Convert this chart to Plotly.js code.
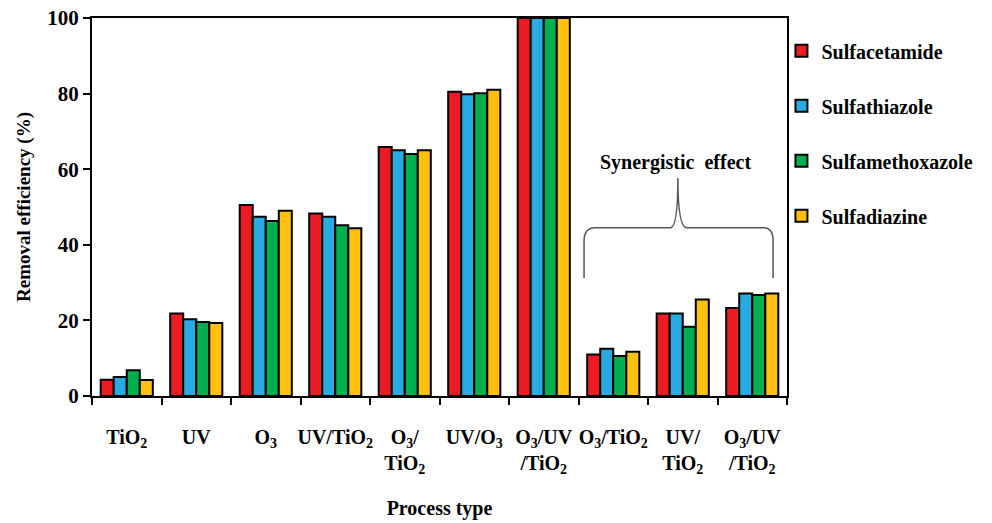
<!DOCTYPE html>
<html>
<head>
<meta charset="utf-8">
<script src="https://cdn.plot.ly/plotly-3.0.1.min.js"></script>
<style>html,body{margin:0;padding:0;background:#fff;}#chart{width:992px;height:523px;}</style>
</head>
<body>
<div id="chart"></div>
<script>
const categories = ['TiO2', 'UV', 'O3', 'UV/TiO2', 'O3/TiO2', 'UV/O3', 'O3/UV/TiO2', 'syn O3/TiO2', 'syn UV/TiO2', 'syn O3/UV/TiO2'];
const tickLabels = ['TiO<sub>2</sub>', 'UV', 'O<sub>3</sub>', 'UV/TiO<sub>2</sub>', 'O<sub>3</sub>/<br>TiO<sub>2</sub>', 'UV/O<sub>3</sub>', 'O<sub>3</sub>/UV<br>/TiO<sub>2</sub>', 'O<sub>3</sub>/TiO<sub>2</sub>', 'UV/<br>TiO<sub>2</sub>', 'O<sub>3</sub>/UV<br>/TiO<sub>2</sub>'];
const seriesNames = ['Sulfacetamide', 'Sulfathiazole', 'Sulfamethoxazole', 'Sulfadiazine'];
const sulfacetamide    = [4.3, 21.8, 50.5, 48.3, 65.9, 80.5, 100, 11.0, 21.8, 23.3];
const sulfathiazole    = [5.0, 20.3, 47.4, 47.4, 65.0, 79.8, 100, 12.5, 21.8, 27.1];
const sulfamethoxazole = [6.8, 19.6, 46.3, 45.2, 64.0, 80.1, 100, 10.6, 18.3, 26.7];
const sulfadiazine     = [4.2, 19.3, 49.0, 44.4, 65.0, 81.0, 100, 11.7, 25.5, 27.1];
const colors = ['#ED1C24', '#29ABE2', '#00B050', '#FFC10E'];

const values = [sulfacetamide, sulfathiazole, sulfamethoxazole, sulfadiazine];
const FONT = 'Times New Roman, Liberation Serif, DejaVu Serif, serif';

const traces = values.map((v, i) => ({
  type: 'bar',
  name: '<b>' + seriesNames[i] + '</b>',
  x: categories,
  y: v,
  legendgroup: 'g' + i,
  marker: {color: colors[i], line: {color: '#000', width: 2}},
  hoverinfo: 'x+y+name'
}));

const bold = s => '<b>' + s + '</b>';

const layout = {
  width: 992, height: 523,
  margin: {l: 92, r: 205, t: 18, b: 127},
  paper_bgcolor: '#fff', plot_bgcolor: '#fff',
  font: {family: FONT, color: '#000', size: 20},
  barmode: 'group',
  bargap: 0.25,
  bargroupgap: 0,
  showlegend: true,
  legend: {
    x: 0.992, xanchor: 'left', y: 0.965, yanchor: 'top',
    font: {family: FONT, size: 20, color: '#000'},
    traceorder: 'grouped', tracegroupgap: 26,
    itemwidth: 30, bgcolor: 'rgba(0,0,0,0)'
  },
  xaxis: {
    type: 'category',
    tickmode: 'array', tickvals: categories, ticktext: tickLabels.map(bold),
    tickson: 'boundaries', tickangle: 0,
    ticks: 'outside', ticklen: 7, tickwidth: 2, tickcolor: '#000',
    ticklabelstandoff: 22,
    showline: true, linecolor: '#000', linewidth: 2, mirror: true,
    showgrid: false, zeroline: false,
    tickfont: {family: FONT, size: 20, color: '#000'},
    title: {text: bold('Process type'), font: {family: FONT, size: 20, color: '#000'}, standoff: 25}
  },
  yaxis: {
    range: [0, 100], dtick: 20, tick0: 0,
    ticks: 'outside', ticklen: 7, tickwidth: 2, tickcolor: '#000',
    showline: true, linecolor: '#000', linewidth: 2, mirror: true,
    showgrid: false, zeroline: false,
    tickfont: {family: FONT, size: 21, color: '#000', weight: 'bold'},
    title: {text: bold('Removal efficiency (%)'), font: {family: FONT, size: 19, color: '#000'}, standoff: 12}
  },
  shapes: [{
    type: 'path', xref: 'paper', yref: 'y',
    path: 'M 0.708,31.2 L 0.708,41 Q 0.708,44.5 0.724,44.5 L 0.832,44.5 Q 0.843,44.5 0.843,57.7 Q 0.843,44.5 0.856,44.5 L 0.966,44.5 Q 0.980,44.5 0.980,41 L 0.980,31.2',
    line: {color: '#555', width: 1.5}
  }],
  annotations: [{
    xref: 'paper', yref: 'y', x: 0.839, xanchor: 'center', y: 61.7, yanchor: 'middle',
    text: bold('Synergistic  effect'), showarrow: false,
    font: {family: FONT, size: 20, color: '#000'}
  }]
};

Plotly.newPlot('chart', traces, layout, {displayModeBar: false, staticPlot: true});
</script>
</body>
</html>
